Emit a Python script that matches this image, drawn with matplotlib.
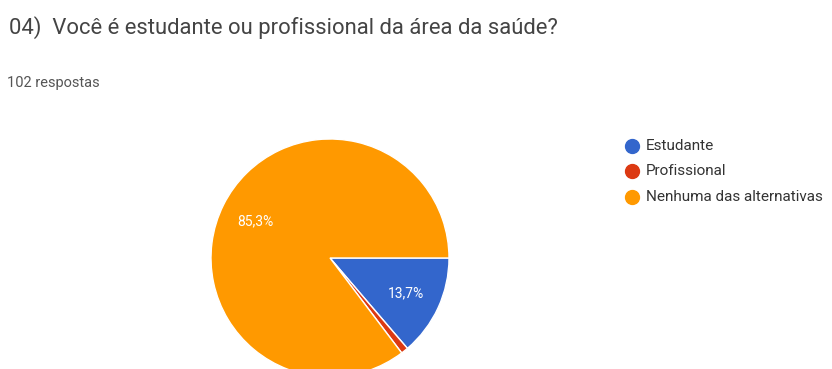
import matplotlib.pyplot as plt
from matplotlib.lines import Line2D

plt.rcParams['font.family'] = ['Roboto', 'DejaVu Sans']

title = "04)  Você é estudante ou profissional da área da saúde?"
subtitle = "102 respostas"
labels = ["Estudante", "Profissional", "Nenhuma das alternativas"]
counts = [14, 1, 87]
colors = ["#3366CC", "#DC3912", "#FF9900"]

W, H = 832, 369
fig = plt.figure(figsize=(W / 100, H / 100), dpi=100)

# pie centre and radius in pixels
cx, cy, r = 330, 258, 119
ax = fig.add_axes([(cx - r) / W, (H - cy - r) / H, 2 * r / W, 2 * r / H])


def fmt(p):
    return f"{p:.1f}%".replace('.', ',') if p > 5 else ""


wedges, texts, autotexts = ax.pie(counts, colors=colors, startangle=0, counterclock=False,
                                  radius=1, autopct=fmt, pctdistance=0.7,
                                  wedgeprops=dict(edgecolor='white', linewidth=1.0),
                                  textprops=dict(color='white', fontsize=10))
ax.set_xlim(-1, 1)
ax.set_ylim(-1, 1)
ax.set_aspect('equal')
ax.axis('off')

fig.text(9 / W, 1 - 28 / H, title, fontsize=15.8, color='#444444', va='center', ha='left')
fig.text(7 / W, 1 - 83 / H, subtitle, fontsize=10.5, color='#555555', va='center', ha='left')

# legend
for i, lab in enumerate(labels):
    y = 1 - (146 + 25.5 * i) / H
    fig.add_artist(Line2D([632 / W], [y], marker='o', markersize=10, color=colors[i],
                          linestyle='none', transform=fig.transFigure))
    fig.text(646 / W, y, lab, fontsize=11, color='#333333', va='center', ha='left')

fig.savefig("out.png", dpi=100, facecolor='white')
